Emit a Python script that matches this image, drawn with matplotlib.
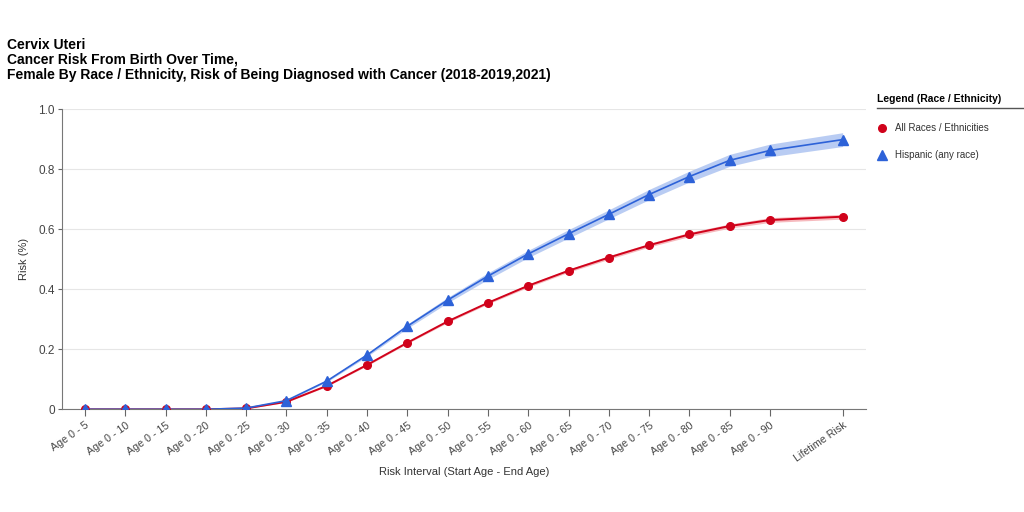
import numpy as np
import matplotlib
matplotlib.use("Agg")
import matplotlib.pyplot as plt

plt.rcParams['font.family'] = ['Liberation Sans', 'DejaVu Sans']

# categorias del eje x
labels = ["Age 0 - 5", "Age 0 - 10", "Age 0 - 15", "Age 0 - 20", "Age 0 - 25",
          "Age 0 - 30", "Age 0 - 35", "Age 0 - 40", "Age 0 - 45", "Age 0 - 50",
          "Age 0 - 55", "Age 0 - 60", "Age 0 - 65", "Age 0 - 70", "Age 0 - 75",
          "Age 0 - 80", "Age 0 - 85", "Age 0 - 90", "Lifetime Risk"]
x_pos = list(range(18)) + [18.8]

# valores
all_races = [0, 0, 0, 0, 0.003, 0.025, 0.078, 0.148, 0.222, 0.293, 0.355, 0.412,
             0.462, 0.506, 0.547, 0.583, 0.611, 0.631, 0.642]
all_err = [0, 0, 0, 0, 0.001, 0.002, 0.002, 0.003, 0.003, 0.004, 0.004, 0.005,
           0.005, 0.006, 0.006, 0.007, 0.007, 0.008, 0.008]
hispanic = [0, 0, 0, 0, 0.004, 0.029, 0.094, 0.181, 0.277, 0.364, 0.444, 0.518,
            0.585, 0.650, 0.716, 0.776, 0.830, 0.863, 0.899]
hisp_err = [0, 0, 0, 0, 0.001, 0.002, 0.003, 0.005, 0.007, 0.009, 0.011, 0.012,
            0.014, 0.015, 0.017, 0.018, 0.020, 0.021, 0.023]

red = "#d0021b"
blue = "#2d62d8"

fig = plt.figure(figsize=(10.24, 5.12), dpi=100)
ax = fig.add_axes([0.0605, 0.2006, 0.7852, 0.5859])

x = np.array(x_pos)
a = np.array(all_races); ae = np.array(all_err)
h = np.array(hispanic); he = np.array(hisp_err)

ax.fill_between(x, h - he, h + he, color="#a8c0f0", alpha=0.8, lw=0, zorder=2)
ax.fill_between(x, a - ae, a + ae, color="#f4a9ae", alpha=0.8, lw=0, zorder=2)
ax.plot(x, a, color=red, lw=1.4, marker="o", ms=5.5, zorder=3,
        label="All Races / Ethnicities")
ax.plot(x, h, color=blue, lw=1.2, marker="^", ms=7, zorder=4,
        label="Hispanic (any race)")

ax.set_xlim(-0.57, 19.38)
ax.set_ylim(0, 1.0)
ax.set_yticks([0, 0.2, 0.4, 0.6, 0.8, 1.0])
ax.set_yticklabels(["0", "0.2", "0.4", "0.6", "0.8", "1.0"], fontsize=8.5, color="#444444")
ax.set_xticks(x)
ax.set_xticklabels(labels, rotation=35, ha="right", rotation_mode="anchor",
                   fontsize=7.7, color="#444444")
ax.tick_params(axis="x", length=5, color="#666666", pad=3)
ax.tick_params(axis="y", length=3, color="#666666", pad=2)
ax.grid(axis="y", color="#e6e6e6", lw=0.8)
ax.set_axisbelow(True)
for s in ["top", "right"]:
    ax.spines[s].set_visible(False)
for s in ["left", "bottom"]:
    ax.spines[s].set_color("#777777")

ax.set_ylabel("Risk (%)", fontsize=8, color="#333333", labelpad=7)
ax.set_xlabel("Risk Interval (Start Age - End Age)", fontsize=8, color="#333333", labelpad=2)

fig.text(0.007, 0.912, "Cervix Uteri", fontsize=10, fontweight="bold", va="center")
fig.text(0.007, 0.883, "Cancer Risk From Birth Over Time,", fontsize=10, fontweight="bold", va="center")
fig.text(0.007, 0.854, "Female By Race / Ethnicity, Risk of Being Diagnosed with Cancer (2018-2019,2021)",
         fontsize=10, fontweight="bold", va="center")

# leyenda manual
fig.text(0.856, 0.806, "Legend (Race / Ethnicity)", fontsize=7.5, fontweight="bold",
         ha="left", va="center")
fig.add_artist(plt.Line2D([0.856, 1.0], [0.789, 0.789], color="#555555", lw=1))
fig.add_artist(plt.Line2D([0.861], [0.75], marker="o", ms=5.5, color=red, lw=0))
fig.text(0.874, 0.75, "All Races / Ethnicities", fontsize=7, va="center", color="#333333")
fig.add_artist(plt.Line2D([0.861], [0.698], marker="^", ms=7, color=blue, lw=0))
fig.text(0.874, 0.698, "Hispanic (any race)", fontsize=7, va="center", color="#333333")

fig.savefig("out.png", dpi=100)
